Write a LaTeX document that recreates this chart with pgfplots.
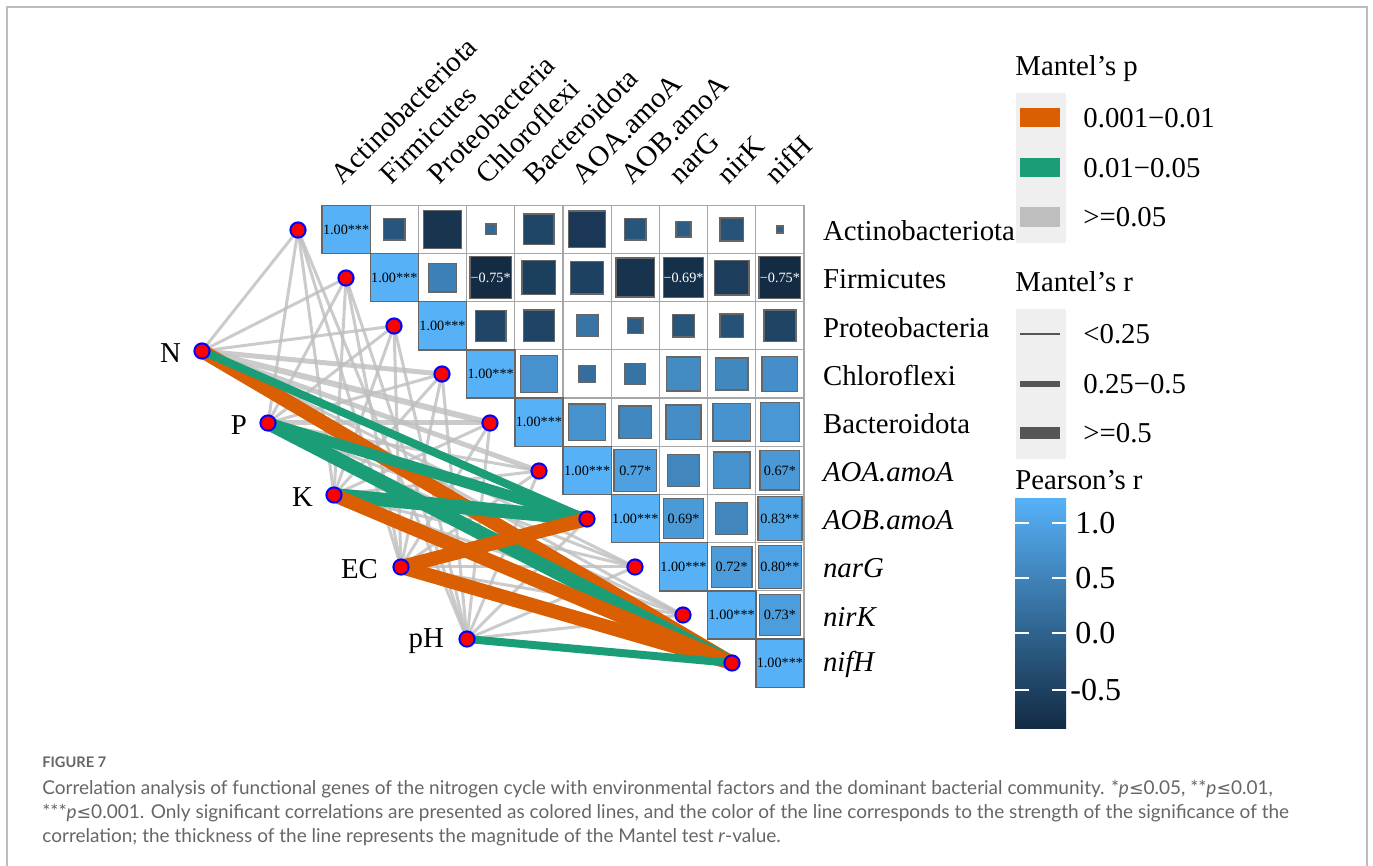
\documentclass[border=0pt]{standalone}
\usepackage{pgfplots}
\pgfplotsset{compat=1.18}
\usepackage{pgfplotstable}
\usepackage{fontspec}
\setmainfont{Liberation Serif}
\newfontfamily\capfont{Lato}
\newfontfamily\symfont{DejaVu Sans}

\definecolor{pOrange}{HTML}{D95F02}
\definecolor{pGreen}{HTML}{1B9E77}
\definecolor{pGray}{HTML}{BEBEBE}
\definecolor{cLow}{HTML}{132B43}
\definecolor{cHigh}{HTML}{56B1F7}
\definecolor{legBg}{HTML}{EFEFEF}
\definecolor{frameGray}{HTML}{BDBDBD}
\definecolor{capGray}{HTML}{666666}
\definecolor{keyGray}{HTML}{555555}

\newcommand\labfont{\fontsize{14.4}{16}\selectfont}
\newcommand\cellfont{\fontsize{7.1}{8}\selectfont}
\newcommand\tickfont{\fontsize{16}{18}\selectfont}
\newcommand\capsize{\capfont\fontsize{9.5}{12}\selectfont}
\newcommand\capleq{{\symfont\fontsize{8.7}{12}\selectfont ≤}}

% cell (col,row) -> position of its centre
\pgfplotsset{table/cx/.style={x expr=346.1+48.2*\thisrow{col}, y expr=229.4+48.2*\thisrow{row}}}

% Pearson's r among taxa and genes, upper triangle (col, row, r)
\pgfplotstableread{
col row r
0 0 1
1 0 -0.20
2 0 -0.63
3 0 0.05
4 0 -0.40
5 0 -0.58
6 0 -0.20
7 0 -0.10
8 0 -0.23
9 0 -0.02
1 1 1
2 1 0.35
3 1 -0.75
4 1 -0.49
5 1 -0.46
6 1 -0.65
7 1 -0.69
8 1 -0.51
9 1 -0.75
2 2 1
3 2 -0.41
4 2 -0.42
5 2 0.20
6 2 -0.10
7 2 -0.21
8 2 -0.24
9 2 -0.44
3 3 1
4 3 0.59
5 3 0.12
6 3 0.18
7 3 0.49
8 3 0.45
9 3 0.54
4 4 1
5 4 0.58
6 4 0.46
7 4 0.52
8 4 0.60
9 4 0.65
5 5 1
6 5 0.77
7 5 0.44
8 5 0.58
9 5 0.67
6 6 1
7 6 0.69
8 6 0.44
9 6 0.83
7 7 1
8 7 0.72
9 7 0.80
8 8 1
9 8 0.73
9 9 1
}\corr

% significance labels on light cells
\pgfplotstableread{
col row lab
0 0 1.00***
1 1 1.00***
2 2 1.00***
3 3 1.00***
4 4 1.00***
5 5 1.00***
6 6 1.00***
7 7 1.00***
8 8 1.00***
9 9 1.00***
6 5 0.77*
9 5 0.67*
7 6 0.69*
9 6 0.83**
8 7 0.72*
9 7 0.80**
9 8 0.73*
}\labdark

% significance labels on dark cells
\pgfplotstableread{
col row lab
3 1 −0.75*
7 1 −0.69*
9 1 −0.75*
}\lablight

\begin{document}
\begin{tikzpicture}
\begin{axis}[
  width=686.5pt, height=433pt, scale only axis,
  xmin=0, xmax=1373, ymin=0, ymax=866, y dir=reverse,
  hide axis, clip=false,
  colormap={pearson}{color(0cm)=(cLow); color(1cm)=(cHigh)},
  point meta min=-0.75, point meta max=1,
  gl/.style={color=pGray, draw opacity=0.8, line width=1.5pt},
  gm/.style={color=pGray, draw opacity=0.8, line width=2.5pt},
]
\coordinate (bl) at (axis cs:0,866);
\coordinate (tr) at (axis cs:1373,0);

% outer frame
\draw[frameGray, line width=1pt] (axis cs:7,866) -- (axis cs:7,7) -- (axis cs:1367,7) -- (axis cs:1367,866);

% Mantel links, non-significant
\addplot[gl] coordinates {(202,351) (298,230)};
\addplot[gl] coordinates {(202,351) (346,278)};
\addplot[gl] coordinates {(202,351) (394,326)};
\addplot[gm] coordinates {(202,351) (442,374)};
\addplot[gm, line width=3pt] coordinates {(202,351) (490,423)};
\addplot[gm] coordinates {(202,351) (539,471)};
\addplot[gl] coordinates {(202,351) (635,567)};
\addplot[gl] coordinates {(202,351) (683,615)};
\addplot[gl] coordinates {(268,423) (298,230)};
\addplot[gl] coordinates {(268,423) (346,278)};
\addplot[gl] coordinates {(268,423) (394,326)};
\addplot[gl] coordinates {(268,423) (442,374)};
\addplot[gm] coordinates {(268,423) (490,423)};
\addplot[gl] coordinates {(268,423) (539,471)};
\addplot[gl] coordinates {(268,423) (635,567)};
\addplot[gl] coordinates {(268,423) (683,615)};
\addplot[gl] coordinates {(334,495) (298,230)};
\addplot[gl] coordinates {(334,495) (346,278)};
\addplot[gl] coordinates {(334,495) (394,326)};
\addplot[gl] coordinates {(334,495) (442,374)};
\addplot[gl] coordinates {(334,495) (490,423)};
\addplot[gl] coordinates {(334,495) (539,471)};
\addplot[gl] coordinates {(334,495) (635,567)};
\addplot[gl] coordinates {(334,495) (683,615)};
\addplot[gl] coordinates {(401,567) (298,230)};
\addplot[gl] coordinates {(401,567) (346,278)};
\addplot[gl] coordinates {(401,567) (394,326)};
\addplot[gl] coordinates {(401,567) (442,374)};
\addplot[gl] coordinates {(401,567) (490,423)};
\addplot[gl] coordinates {(401,567) (539,471)};
\addplot[gl] coordinates {(401,567) (635,567)};
\addplot[gl] coordinates {(401,567) (683,615)};
\addplot[gl] coordinates {(467,639) (298,230)};
\addplot[gl] coordinates {(467,639) (346,278)};
\addplot[gl] coordinates {(467,639) (394,326)};
\addplot[gl] coordinates {(467,639) (442,374)};
\addplot[gl] coordinates {(467,639) (490,423)};
\addplot[gl] coordinates {(467,639) (539,471)};
\addplot[gl] coordinates {(467,639) (587,519)};
\addplot[gl] coordinates {(467,639) (635,567)};
\addplot[gl] coordinates {(467,639) (683,615)};

% Mantel links, significant
\addplot[pOrange, line width=7pt] coordinates {(202,351) (732,663)};
\addplot[pGreen, line width=4pt] coordinates {(202,351) (587,519)};
\addplot[pGreen, line width=5.5pt] coordinates {(268,423) (587,519)};
\addplot[pGreen, line width=7pt] coordinates {(268,423) (732,663)};
\addplot[pGreen, line width=7pt] coordinates {(334,495) (587,519)};
\addplot[pOrange, line width=7pt] coordinates {(334,495) (732,663)};
\addplot[pOrange, line width=7pt] coordinates {(401,567) (587,519)};
\addplot[pOrange, line width=7pt] coordinates {(401,567) (732,663)};
\addplot[pGreen, line width=4pt] coordinates {(467,639) (732,663)};

% link end points
\addplot[only marks, mark=*, mark size=3.8pt, mark options={fill=red, draw=blue, line width=1pt}]
  coordinates {(202,351) (268,423) (334,495) (401,567) (467,639)
               (298,230) (346,278) (394,326) (442,374) (490,423)
               (539,471) (587,519) (635,567) (683,615) (732,663)};

% correlation matrix cells
\addplot[only marks, mark=square, mark size=12.05pt, mark options={draw=gray!70, line width=0.6pt}]
  table[cx] {\corr};
\addplot[scatter, only marks, mark=square*, line width=0.7pt,
  point meta=\thisrow{r},
  scatter/use mapped color={draw=black!60, fill=mapped color},
  visualization depends on={12.05*sqrt(abs(\thisrow{r})) \as \sz},
  scatter/@pre marker code/.append style={/tikz/mark size=\sz pt},
] table[cx] {\corr};
\addplot[draw=none, nodes near coords, point meta=explicit symbolic,
  nodes near coords align={center},
  nodes near coords style={font=\cellfont, text=black, inner sep=0pt}]
  table[cx, meta=lab] {\labdark};
\addplot[draw=none, nodes near coords, point meta=explicit symbolic,
  nodes near coords align={center},
  nodes near coords style={font=\cellfont, text=white, inner sep=0pt}]
  table[cx, meta=lab] {\lablight};

% environmental factor names
\node[anchor=east, font=\labfont] at (axis cs:188,353) {N};
\node[anchor=east, font=\labfont] at (axis cs:254,425) {P};
\node[anchor=east, font=\labfont] at (axis cs:320,497) {K};
\node[anchor=east, font=\labfont] at (axis cs:385,569) {EC};
\node[anchor=east, font=\labfont] at (axis cs:451,641) {pH};

% row names
\node[anchor=west, font=\labfont] at (axis cs:816,231) {Actinobacteriota};
\node[anchor=west, font=\labfont] at (axis cs:816,279.2) {Firmicutes};
\node[anchor=west, font=\labfont] at (axis cs:816,327.4) {Proteobacteria};
\node[anchor=west, font=\labfont] at (axis cs:816,375.6) {Chloroflexi};
\node[anchor=west, font=\labfont] at (axis cs:816,423.8) {Bacteroidota};
\node[anchor=west, font=\labfont\itshape] at (axis cs:816,472) {AOA.amoA};
\node[anchor=west, font=\labfont\itshape] at (axis cs:816,520.2) {AOB.amoA};
\node[anchor=west, font=\labfont\itshape] at (axis cs:816,568.4) {narG};
\node[anchor=west, font=\labfont\itshape] at (axis cs:816,616.6) {nirK};
\node[anchor=west, font=\labfont\itshape] at (axis cs:816,664.8) {nifH};

% column names
\node[rotate=45, anchor=base west, font=\labfont] at (axis cs:338,190) {Actinobacteriota};
\node[rotate=45, anchor=base west, font=\labfont] at (axis cs:386.2,190) {Firmicutes};
\node[rotate=45, anchor=base west, font=\labfont] at (axis cs:434.4,190) {Proteobacteria};
\node[rotate=45, anchor=base west, font=\labfont] at (axis cs:482.6,190) {Chloroflexi};
\node[rotate=45, anchor=base west, font=\labfont] at (axis cs:530.8,190) {Bacteroidota};
\node[rotate=45, anchor=base west, font=\labfont] at (axis cs:579,190) {AOA.amoA};
\node[rotate=45, anchor=base west, font=\labfont] at (axis cs:627.2,190) {AOB.amoA};
\node[rotate=45, anchor=base west, font=\labfont] at (axis cs:675.4,190) {narG};
\node[rotate=45, anchor=base west, font=\labfont] at (axis cs:723.6,190) {nirK};
\node[rotate=45, anchor=base west, font=\labfont] at (axis cs:771.8,190) {nifH};

% legend: Mantel's p
\node[anchor=base west, font=\labfont, inner sep=0pt] at (axis cs:1015,76) {Mantel’s p};
\fill[legBg] (axis cs:1016,93) rectangle (axis cs:1066,243);
\fill[pOrange] (axis cs:1020,108) rectangle (axis cs:1060,127);
\fill[pGreen] (axis cs:1020,158) rectangle (axis cs:1060,177);
\fill[pGray] (axis cs:1020,207) rectangle (axis cs:1060,227);
\node[anchor=west, font=\labfont, inner sep=0pt] at (axis cs:1083,118) {0.001−0.01};
\node[anchor=west, font=\labfont, inner sep=0pt] at (axis cs:1083,168) {0.01−0.05};
\node[anchor=west, font=\labfont, inner sep=0pt] at (axis cs:1083,217) {>=0.05};

% legend: Mantel's r
\node[anchor=base west, font=\labfont, inner sep=0pt] at (axis cs:1015,292) {Mantel’s r};
\fill[legBg] (axis cs:1016,309) rectangle (axis cs:1066,459);
\draw[keyGray, line width=1.3pt] (axis cs:1020,334) -- (axis cs:1060,334);
\draw[keyGray, line width=2.7pt] (axis cs:1020,384) -- (axis cs:1060,384);
\draw[keyGray, line width=5.8pt] (axis cs:1020,433) -- (axis cs:1060,433);
\node[anchor=west, font=\labfont, inner sep=0pt] at (axis cs:1083,334) {<0.25};
\node[anchor=west, font=\labfont, inner sep=0pt] at (axis cs:1083,384) {0.25−0.5};
\node[anchor=west, font=\labfont, inner sep=0pt] at (axis cs:1083,433) {>=0.5};

% legend: Pearson's r colour bar
\node[anchor=base west, font=\labfont, inner sep=0pt] at (axis cs:1015,490) {Pearson’s r};
\shade[bottom color=cLow, top color=cHigh] (axis cs:1015,728) rectangle (axis cs:1066,499);
\draw[white, line width=1pt] (axis cs:1015,523) -- (axis cs:1029,523) (axis cs:1052,523) -- (axis cs:1066,523);
\draw[white, line width=1pt] (axis cs:1015,578) -- (axis cs:1029,578) (axis cs:1052,578) -- (axis cs:1066,578);
\draw[white, line width=1pt] (axis cs:1015,633) -- (axis cs:1029,633) (axis cs:1052,633) -- (axis cs:1066,633);
\draw[white, line width=1pt] (axis cs:1015,690) -- (axis cs:1029,690) (axis cs:1052,690) -- (axis cs:1066,690);
\node[anchor=west, font=\tickfont, inner sep=0pt] at (axis cs:1075,523) {1.0};
\node[anchor=west, font=\tickfont, inner sep=0pt] at (axis cs:1075,578) {0.5};
\node[anchor=west, font=\tickfont, inner sep=0pt] at (axis cs:1075,633) {0.0};
\node[anchor=west, font=\tickfont, inner sep=0pt] at (axis cs:1070,690) {-0.5};

% caption
\node[anchor=base west, text=capGray, font=\capfont\bfseries\fontsize{7.3}{9}\selectfont, inner sep=0pt] at (axis cs:42,768) {FIGURE 7};
\node[anchor=base west, text=capGray, font=\capsize, inner sep=0pt] at (axis cs:42,794)
  {Correlation analysis of functional genes of the nitrogen cycle with environmental factors and the dominant bacterial community. *\textit{p}\capleq0.05, **\textit{p}\capleq0.01,};
\node[anchor=base west, text=capGray, font=\capsize, inner sep=0pt] at (axis cs:42,818)
  {***\textit{p}\capleq0.001. Only significant correlations are presented as colored lines, and the color of the line corresponds to the strength of the significance of the};
\node[anchor=base west, text=capGray, font=\capsize, inner sep=0pt] at (axis cs:42,842)
  {correlation; the thickness of the line represents the magnitude of the Mantel test \textit{r}-value.};
\end{axis}
\pgfresetboundingbox
\path (bl) rectangle (tr);
\end{tikzpicture}
\end{document}
